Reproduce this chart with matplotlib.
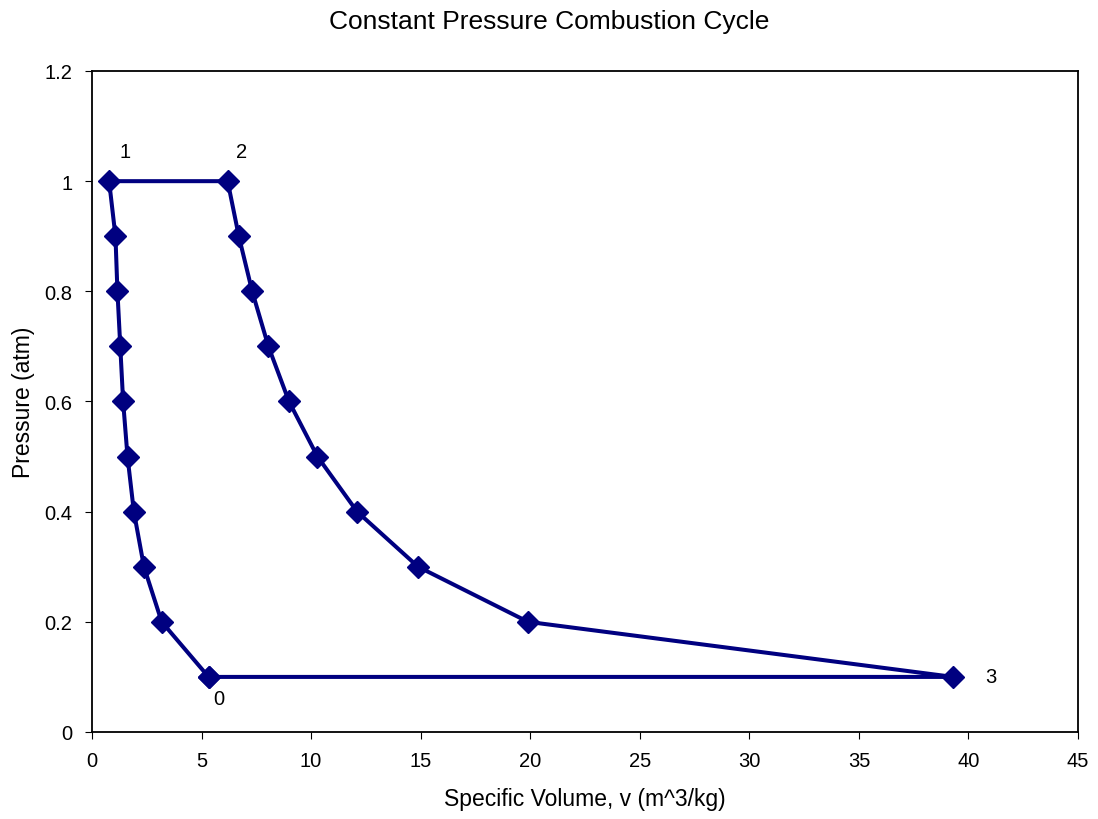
import numpy as np
import matplotlib.pyplot as plt

plt.rcParams['font.family'] = ['Liberation Sans', 'DejaVu Sans']

# cycle traced 0 -> 1 -> 2 -> 3 -> 0
v_comp = [5.32, 3.18, 2.37, 1.91, 1.62, 1.42, 1.29, 1.16, 1.07, 0.78]
p_comp = [0.1, 0.2, 0.3, 0.4, 0.5, 0.6, 0.7, 0.8, 0.9, 1.0]
v_exp = [6.19, 6.70, 7.31, 8.05, 8.99, 10.29, 12.1, 14.88, 19.9, 39.3]
p_exp = [1.0, 0.9, 0.8, 0.7, 0.6, 0.5, 0.4, 0.3, 0.2, 0.1]

state_labels = ['0', '1', '2', '3']
state_v = [v_comp[0], v_comp[-1], v_exp[0], v_exp[-1]]
state_p = [p_comp[0], p_comp[-1], p_exp[0], p_exp[-1]]
label_offsets = [(10, -22), (16, 30), (14, 30), (38, 0)]

v = v_comp + v_exp + [v_comp[0]]
p = p_comp + p_exp + [p_comp[0]]

f = plt.figure(figsize=(10.98, 8.2), dpi=100)
ax = f.add_axes([0.0838, 0.1061, 0.8980, 0.8061])

ax.plot(v, p, '-', color='#000080', lw=2.9, marker='D', ms=11,
        mfc='#000080', mec='#000080')

for lab, x, y, off in zip(state_labels, state_v, state_p, label_offsets):
    ax.annotate(lab, (x, y), xytext=off, textcoords='offset pixels',
                ha='center', va='center', fontsize=14.5)

ax.set_xlim(0, 45)
ax.set_ylim(0, 1.2)
ax.set_xticks(np.arange(0, 46, 5))
ax.set_yticks(np.arange(0, 1.21, 0.2))
ax.set_yticklabels(['0', '0.2', '0.4', '0.6', '0.8', '1', '1.2'])
ax.tick_params(labelsize=14.5, length=5, direction='out')
ax.tick_params(axis='x', pad=9)
ax.tick_params(axis='y', pad=9)
for s in ax.spines.values():
    s.set_linewidth(1.3)

ax.set_xlabel('Specific Volume, v (m^3/kg)', fontsize=16.5)
ax.set_ylabel('Pressure (atm)', fontsize=16.5)
ax.xaxis.set_label_coords(0.5, -(800 - 733) / 661.0)
ax.yaxis.set_label_coords(-(92 - 23) / 986.0, 0.5)
ax.xaxis.label.set_va('center')
ax.yaxis.label.set_va('center')
f.suptitle('Constant Pressure Combustion Cycle', fontsize=19, y=1 - 22 / 820.0,
           va='center')

f.savefig('out.png', dpi=100)
